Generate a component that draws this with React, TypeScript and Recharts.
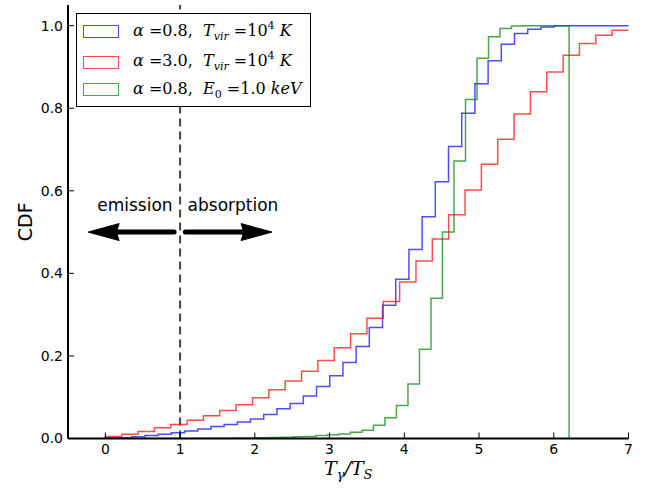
import React from 'react'
import {
  LineChart,
  Line,
  XAxis,
  YAxis,
  ReferenceLine,
  ReferenceDot,
  Legend,
} from 'recharts'

const xTicks = [0, 1, 2, 3, 4, 5, 6, 7]
const yTicks = [0, 0.2, 0.4, 0.6, 0.8, 1.0]

// alpha = 0.8, Tvir = 1e4 K  (40 bins)
const blueStart = 0
const blueWidth = 0.1766
const blueCdf = [
  0.001, 0.002, 0.004, 0.007, 0.01, 0.014, 0.018, 0.023, 0.029, 0.034,
  0.04, 0.047, 0.058, 0.072, 0.085, 0.103, 0.126, 0.152, 0.184, 0.223,
  0.269, 0.323, 0.386, 0.458, 0.537, 0.622, 0.707, 0.788, 0.859, 0.915,
  0.955, 0.981, 0.991, 0.997, 1.0, 1.0, 1.0, 1.0, 1.0, 1.0,
]

// alpha = 3.0, Tvir = 1e4 K  (32 bins)
const redStart = 0
const redWidth = 0.21875
const redCdf = [
  0.005, 0.01, 0.017, 0.026, 0.034, 0.044, 0.055, 0.068, 0.082, 0.099,
  0.118, 0.139, 0.163, 0.189, 0.22, 0.254, 0.291, 0.332, 0.379, 0.43,
  0.483, 0.542, 0.602, 0.664, 0.725, 0.786, 0.84, 0.888, 0.928, 0.957,
  0.977, 0.989,
]

// alpha = 0.8, E0 = 1.0 keV  (40 bins)
const greenStart = 0.045
const greenWidth = 0.154
const greenCdf = [
  0, 0, 0, 0, 0, 0, 0.0001, 0.0002, 0.0003, 0.0005,
  0.0007, 0.001, 0.0013, 0.0018, 0.0024, 0.003, 0.004, 0.005, 0.007, 0.009,
  0.011, 0.015, 0.02, 0.032, 0.05, 0.08, 0.132, 0.216, 0.34, 0.5,
  0.672, 0.821, 0.921, 0.973, 0.993, 0.999, 1.0, 1.0, 1.0, 1.0,
]

const legendLabels = [
  { alpha: '0.8', name: 'T', sub: 'vir', value: '10', sup: '4', unit: 'K' },
  { alpha: '3.0', name: 'T', sub: 'vir', value: '10', sup: '4', unit: 'K' },
  { alpha: '0.8', name: 'E', sub: '0', value: '1.0', sup: '', unit: 'keV' },
]

const dividerX = 1
const arrowY = 0.5
const emissionArrow = [0.92, -0.23]
const absorptionArrow = [1.07, 2.23]
const noteY = 0.55
const emissionTextX = 0.9
const absorptionTextX = 1.1

function steps(start: number, width: number, cdf: number[], close: boolean) {
  const pts = [{ x: start, y: 0 }]
  cdf.forEach((v, i) => pts.push({ x: start + i * width, y: v }))
  const end = start + cdf.length * width
  pts.push({ x: end, y: close ? 0 : cdf[cdf.length - 1] })
  return pts
}

const blueData = steps(blueStart, blueWidth, blueCdf, true)
const redData = steps(redStart, redWidth, redCdf, false)
const greenData = steps(greenStart, greenWidth, greenCdf, true)

const colors = ['#0000ff', '#ff0000', '#008000']
const tickFont = { fill: '#000', fontSize: 14, fontFamily: 'DejaVu Sans' }

function Arrow(props: any) {
  const { x1, y1, x2, y2 } = props
  const dir = Math.sign(x2 - x1)
  const headLen = 31
  const half = 8.5
  const back = x2 - dir * headLen
  return (
    <g>
      <line x1={x1} y1={y1} x2={back + dir * 3} y2={y2} stroke="#000" strokeWidth={5} strokeLinecap="round" />
      <path
        d={`M${x2},${y2} L${back},${y2 - half} Q${back + dir * 4},${y2} ${back},${y2 + half} Z`}
        fill="#000"
        stroke="#000"
        strokeWidth={1}
        strokeLinejoin="round"
      />
    </g>
  )
}

function XLabel({ viewBox }: any) {
  const cx = viewBox.x + viewBox.width / 2
  return (
    <text x={cx} y={viewBox.y + 36} textAnchor="middle" fontFamily="DejaVu Serif" fontStyle="italic" fontSize={19} fill="#000">
      T<tspan fontSize={13} dy={4}>γ</tspan>
      <tspan dy={-4}>/T</tspan>
      <tspan fontSize={13} dy={4}>S</tspan>
    </text>
  )
}

function YLabel({ viewBox }: any) {
  const cy = viewBox.y + viewBox.height / 2
  return (
    <text x={32} y={cy} transform={`rotate(-90 32 ${cy})`} textAnchor="middle" fontFamily="DejaVu Sans" fontSize={19} fill="#000">
      CDF
    </text>
  )
}

const rowTops = [17.7, 48.2, 75.7]

function LegendContent() {
  return (
    <div style={{ position: 'relative', width: 233, height: 92, border: '1px solid #000', background: '#fff' }}>
      {legendLabels.map((l, i) => (
        <div
          key={i}
          style={{ position: 'absolute', left: 0, top: rowTops[i] - 10, height: 20, display: 'flex', alignItems: 'center', whiteSpace: 'nowrap' }}
        >
          <div style={{ marginLeft: 6, width: 34, height: 11, border: `1.5px solid ${colors[i]}`, opacity: 0.7 }} />
          <span style={{ marginLeft: 14, fontFamily: 'DejaVu Serif', fontSize: 16, color: '#000', lineHeight: '20px' }}>
            <i>α</i> ={l.alpha},&nbsp;&nbsp;<i>{l.name}</i>
            <span style={{ fontSize: 11, position: 'relative', top: 4, fontStyle: l.sub === '0' ? 'normal' : 'italic' }}>{l.sub}</span>
            {' '}={l.value}
            {l.sup && <span style={{ fontSize: 11, position: 'relative', top: -7 }}>{l.sup}</span>}
            {' '}<i>{l.unit}</i>
          </span>
        </div>
      ))}
    </div>
  )
}

export default function App() {
  return (
    <div style={{ position: 'absolute', left: 0, top: 0, width: 655, height: 491, background: '#fff' }}>
      <LineChart width={655} height={491} margin={{ top: 5, right: 26.5, bottom: 0, left: 0 }}>
        <XAxis
          type="number"
          dataKey="x"
          domain={[-0.5, 7]}
          ticks={xTicks}
          allowDataOverflow
          height={52.5}
          tickSize={-6}
          tickMargin={12}
          axisLine={{ stroke: '#000', strokeWidth: 2 }}
          tickLine={{ stroke: '#000' }}
          tick={tickFont}
          label={{ content: XLabel }}
        />
        <XAxis
          xAxisId="top"
          orientation="top"
          type="number"
          domain={[-0.5, 7]}
          ticks={xTicks}
          allowDataOverflow
          height={0}
          tickSize={-6}
          axisLine={{ stroke: '#000', strokeWidth: 2 }}
          tickLine={{ stroke: '#000' }}
          tick={false}
        />
        <YAxis
          type="number"
          domain={[0, 1.05]}
          ticks={yTicks}
          allowDataOverflow
          width={68}
          tickSize={-6}
          tickMargin={11}
          tickFormatter={(v: number) => v.toFixed(1)}
          axisLine={{ stroke: '#000', strokeWidth: 2 }}
          tickLine={{ stroke: '#000' }}
          tick={tickFont}
          label={{ content: YLabel }}
        />
        <YAxis
          yAxisId="right"
          orientation="right"
          type="number"
          domain={[0, 1.05]}
          ticks={yTicks}
          allowDataOverflow
          width={0}
          tickSize={-6}
          axisLine={{ stroke: '#000', strokeWidth: 2 }}
          tickLine={{ stroke: '#000' }}
          tick={false}
        />
        <ReferenceLine x={dividerX} stroke="#444" strokeWidth={2} strokeDasharray="8 5" />
        <Line data={blueData} dataKey="y" type="stepAfter" stroke={colors[0]} strokeOpacity={0.7} strokeWidth={1.5} dot={false} isAnimationActive={false} name="blue" />
        <Line data={redData} dataKey="y" type="stepAfter" stroke={colors[1]} strokeOpacity={0.7} strokeWidth={1.5} dot={false} isAnimationActive={false} name="red" />
        <Line data={greenData} dataKey="y" type="stepAfter" stroke={colors[2]} strokeOpacity={0.7} strokeWidth={1.5} dot={false} isAnimationActive={false} name="green" />
        <ReferenceLine
          segment={[{ x: emissionArrow[0], y: arrowY }, { x: emissionArrow[1], y: arrowY }]}
          shape={Arrow}
        />
        <ReferenceLine
          segment={[{ x: absorptionArrow[0], y: arrowY }, { x: absorptionArrow[1], y: arrowY }]}
          shape={Arrow}
        />
        <ReferenceDot
          x={emissionTextX}
          y={noteY}
          shape={(p: any) => (
            <text x={p.cx} y={p.cy} textAnchor="end" fontFamily="DejaVu Sans" fontSize={17} fill="#000">emission</text>
          )}
        />
        <ReferenceDot
          x={absorptionTextX}
          y={noteY}
          shape={(p: any) => (
            <text x={p.cx} y={p.cy} textAnchor="start" fontFamily="DejaVu Sans" fontSize={17} fill="#000">absorption</text>
          )}
        />
        <Legend
          layout="horizontal"
          verticalAlign="middle"
          align="center"
          content={LegendContent}
          wrapperStyle={{ position: 'absolute', left: 76, top: 13, width: 235, height: 94 }}
        />
      </LineChart>
    </div>
  )
}
